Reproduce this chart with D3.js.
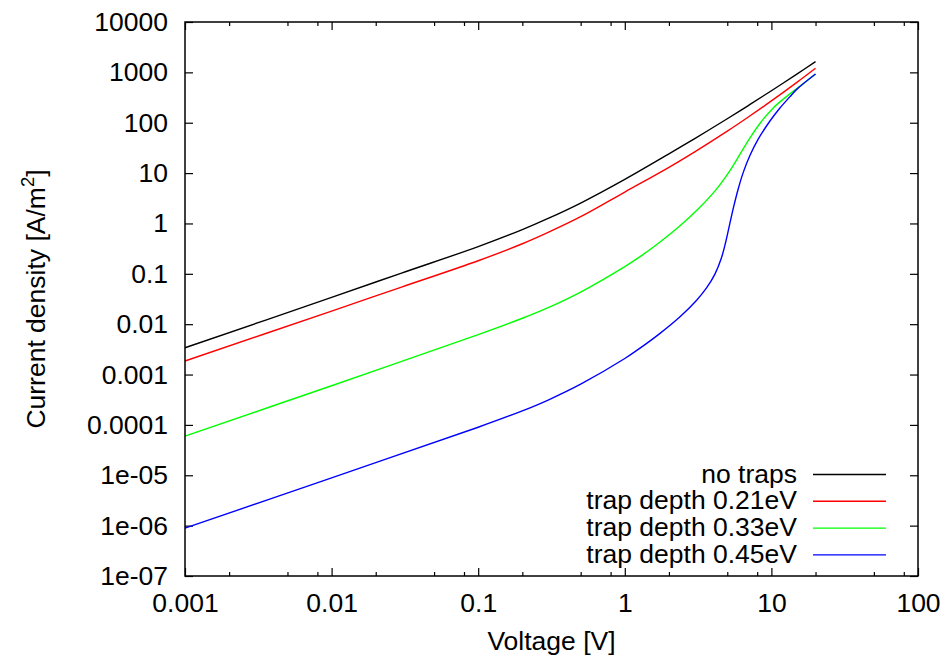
<!DOCTYPE html>
<html><head><meta charset="utf-8">
<script src="https://cdn.jsdelivr.net/npm/d3@7"></script>
<style>
body{margin:0;background:#fff}
svg{display:block}
text{font-family:"Liberation Sans",Arial,Helvetica,sans-serif;fill:#000}
</style>
</head><body>
<svg id="chart" width="944" height="657"></svg>
<script>
// ---- data ----
const xTickValues = [0.001, 0.01, 0.1, 1, 10, 100];
const xTickLabels = ["0.001", "0.01", "0.1", "1", "10", "100"];
const yTickValues = [1e4, 1e3, 100, 10, 1, 0.1, 0.01, 0.001, 1e-4, 1e-5, 1e-6, 1e-7];
const yTickLabels = ["10000", "1000", "100", "10", "1", "0.1", "0.01", "0.001", "0.0001", "1e-05", "1e-06", "1e-07"];
const xMinorFactors = [2, 5, 8];

const seriesNames = ["no traps", "trap depth 0.21eV", "trap depth 0.33eV", "trap depth 0.45eV"];
const seriesColors = ["#000000", "#ff0000", "#00ff00", "#0000ff"];

const vNoTraps = [0.001, 0.01, 0.03, 0.1, 0.2, 0.3, 0.5, 1, 2, 3, 5, 7, 10, 15, 20];
const jNoTraps = [3.4e-3, 0.034, 0.1035, 0.347, 0.754, 1.256, 2.54, 7.5, 24.1, 48.5, 120, 222, 432, 933, 1630];

const vTrap021 = [0.001, 0.01, 0.03, 0.1, 0.2, 0.3, 0.5, 1, 2, 3, 5, 7, 10, 15, 20];
const jTrap021 = [1.86e-3, 0.0182, 0.0546, 0.182, 0.395, 0.664, 1.36, 4.2, 13.0, 26.4, 68, 131.5, 271, 640, 1205];

const vTrap033 = [0.001, 0.01, 0.1, 0.2, 0.3, 0.5, 1, 1.27, 1.73, 2.37, 3.24, 4.22, 5.2, 6.08, 7.11, 8.55, 10.3, 12, 15, 20];
const jTrap033 = [6.0e-5, 6.0e-4, 6.2e-3, 0.0131, 0.0213, 0.0435, 0.139, 0.219, 0.424, 0.889, 2.07, 4.80, 11.1, 23.2, 49.1, 106, 197, 292, 482, 930];

const vTrap045 = [0.001, 0.01, 0.1, 0.2, 0.3, 0.5, 1, 1.27, 1.73, 2.37, 3.08, 3.61, 4.11, 4.56, 4.88, 5.2, 5.54, 5.93, 6.41, 7.11, 8.11, 9.75, 11.4, 13.3, 15, 20];
const jTrap045 = [8.9e-7, 8.9e-6, 9.0e-5, 1.9e-4, 3.12e-4, 6.44e-4, 2.08e-3, 3.34e-3, 6.5e-3, 0.01387, 0.0296, 0.0524, 0.0975, 0.2065, 0.4285, 0.979, 2.20, 4.78, 10.1, 21.8, 46.7, 107, 194, 322, 470, 930];

const seriesV = [vNoTraps, vTrap021, vTrap033, vTrap045];
const seriesJ = [jNoTraps, jTrap021, jTrap033, jTrap045];

// ---- layout ----
const W = 944, H = 657;
const margin = {left: 185, right: 26, top: 22, bottom: 81};
const FS = 26.5;

const svg = d3.select("#chart");
const x = d3.scaleLog().domain([0.001, 100]).range([margin.left, W - margin.right]);
const y = d3.scaleLog().domain([1e-7, 1e4]).range([H - margin.bottom, margin.top]);

// minor tick values
const xMinor = [];
xTickValues.slice(0, -1).forEach(d => xMinorFactors.forEach(f => xMinor.push(d * f)));

function styleAxis(g) {
  g.select(".domain").remove();
  g.selectAll(".tick line").attr("stroke", "#000").attr("stroke-width", 1.2);
  g.selectAll(".tick text").attr("font-size", FS).attr("font-family", '"Liberation Sans",Arial,sans-serif');
}
svg.append("g").attr("transform", `translate(0,${H - margin.bottom})`)
  .call(d3.axisBottom(x).tickValues(xTickValues).tickFormat((d, i) => xTickLabels[i]).tickSize(-8).tickPadding(17))
  .call(styleAxis);
svg.append("g").attr("transform", `translate(0,${H - margin.bottom})`)
  .call(d3.axisBottom(x).tickValues(xMinor).tickFormat("").tickSize(-4))
  .call(styleAxis);
svg.append("g").attr("transform", `translate(0,${margin.top})`)
  .call(d3.axisTop(x).tickValues(xTickValues).tickFormat("").tickSize(-8))
  .call(styleAxis);
svg.append("g").attr("transform", `translate(0,${margin.top})`)
  .call(d3.axisTop(x).tickValues(xMinor).tickFormat("").tickSize(-4))
  .call(styleAxis);
svg.append("g").attr("transform", `translate(${margin.left},0)`)
  .call(d3.axisLeft(y).tickValues(yTickValues).tickFormat((d, i) => yTickLabels[i]).tickSize(-8).tickPadding(17))
  .call(styleAxis);
svg.append("g").attr("transform", `translate(${W - margin.right},0)`)
  .call(d3.axisRight(y).tickValues(yTickValues).tickFormat("").tickSize(-8))
  .call(styleAxis);

// curves
const line = d3.line().x(d => x(d[0])).y(d => y(d[1])).curve(d3.curveCatmullRom.alpha(0.5));
seriesV.forEach((vs, i) => {
  const pts = vs.map((v, k) => [v, seriesJ[i][k]]);
  svg.append("path").datum(pts)
    .attr("fill", "none").attr("stroke", seriesColors[i]).attr("stroke-width", 1.4)
    .attr("stroke-linejoin", "round")
    .attr("d", line);
});

// frame
svg.append("rect")
  .attr("x", margin.left).attr("y", margin.top)
  .attr("width", W - margin.left - margin.right).attr("height", H - margin.top - margin.bottom)
  .attr("fill", "none").attr("stroke", "#000").attr("stroke-width", 1.5);

// axis titles
svg.append("text").attr("x", (margin.left + W - margin.right) / 2).attr("y", 650)
  .attr("text-anchor", "middle").attr("font-size", FS).text("Voltage [V]");
const yl = svg.append("text")
  .attr("transform", `translate(45,${(margin.top + H - margin.bottom) / 2}) rotate(-90)`)
  .attr("text-anchor", "middle").attr("font-size", FS);
yl.append("tspan").text("Current density [A/m");
yl.append("tspan").attr("font-size", FS * 0.7).attr("dy", -11).text("2");
yl.append("tspan").attr("dy", 11).text("]");

// legend
const legY0 = 474.5, legStep = 26.8;
seriesNames.forEach((name, i) => {
  const yy = legY0 + i * legStep;
  svg.append("text").attr("x", 797).attr("y", yy).attr("dy", 8)
    .attr("text-anchor", "end").attr("font-size", FS).text(name);
  svg.append("line").attr("x1", 813).attr("x2", 886).attr("y1", yy).attr("y2", yy)
    .attr("stroke", seriesColors[i]).attr("stroke-width", 1.4);
});
</script>
</body></html>
